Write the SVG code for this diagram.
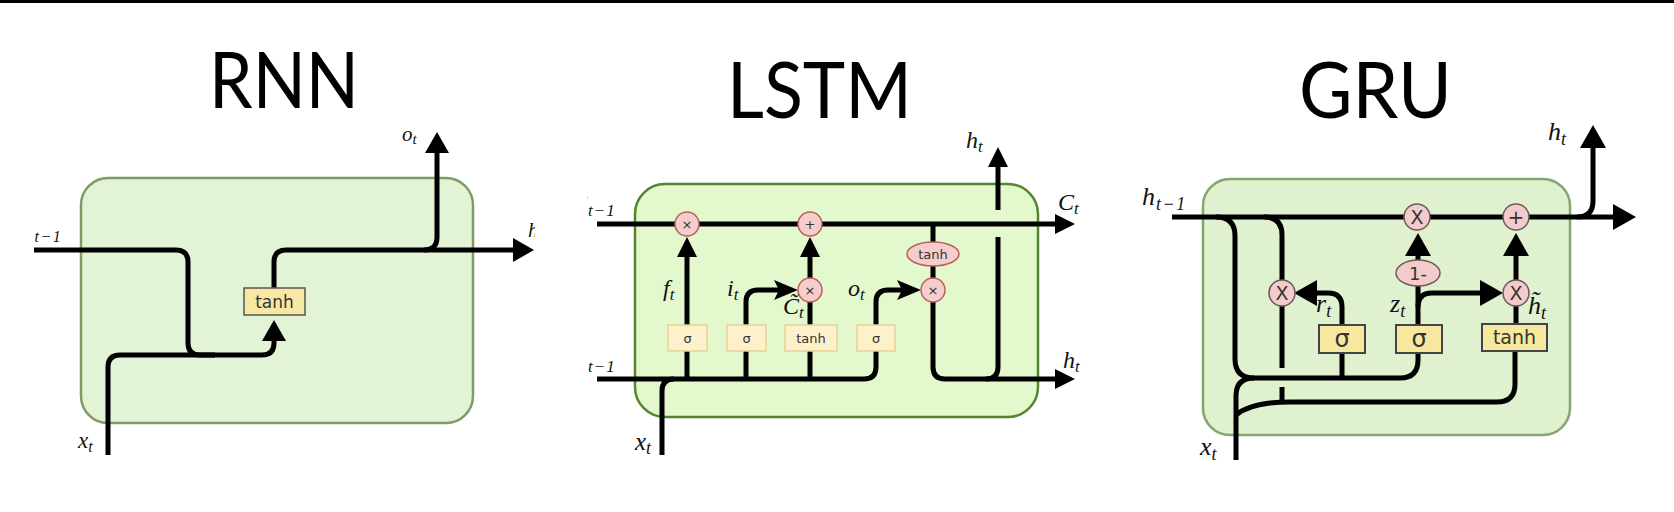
<svg xmlns="http://www.w3.org/2000/svg" width="1674" height="512" viewBox="0 0 1674 512">
<style>
.title{font-family:Lato,"Liberation Sans",sans-serif;font-size:77px;fill:#000}
.w{fill:none;stroke:#000;stroke-width:5}
.m{font-family:"Liberation Serif",serif;font-style:italic;fill:#111}
.sf{font-family:"DejaVu Sans","Liberation Sans",sans-serif;fill:#333;text-anchor:middle}
.cellR{fill:#e2f4d5;stroke:#7f9c68;stroke-width:2.5}
.cellL{fill:#e3f8cd;stroke:#55862f;stroke-width:2.5}
.cellG{fill:#dff1cf;stroke:#86a56f;stroke-width:2.5}
.ybR{fill:#f6e8a2;stroke:#555;stroke-width:1.5}
.ybL{fill:#fdf1cb;stroke:#ead196;stroke-width:1.5}
.ybG{fill:#f6e89e;stroke:#444;stroke-width:2}
.pkL{fill:#f6cccc;stroke:#b8605c;stroke-width:1.5}
.pkG{fill:#f4cbcd;stroke:#6d5a5a;stroke-width:1.5}
</style>
<defs>
<marker id="aR" markerUnits="userSpaceOnUse" orient="auto" refX="0" refY="0" style="overflow:visible"><path d="M0,-12 L21,0 L0,12 z" fill="#000"/></marker>
<marker id="aL" markerUnits="userSpaceOnUse" orient="auto" refX="0" refY="0" style="overflow:visible"><path d="M0,-10 L20,0 L0,10 z" fill="#000"/></marker>
<marker id="aN" markerUnits="userSpaceOnUse" orient="auto" refX="0" refY="0" style="overflow:visible"><path d="M-5,-10 L19,0 L-5,10 L0,0 z" fill="#000"/></marker>
<marker id="aG" markerUnits="userSpaceOnUse" orient="auto" refX="0" refY="0" style="overflow:visible"><path d="M0,-13 L23,0 L0,13 z" fill="#000"/></marker>
<clipPath id="cRL"><rect x="33" y="0" width="500" height="512"/></clipPath>
<clipPath id="cRR"><rect x="0" y="0" width="535" height="512"/></clipPath>
<clipPath id="cLL"><rect x="587" y="0" width="600" height="512"/></clipPath>
</defs>
<rect width="1674" height="512" fill="#fff"/>
<rect x="0" y="0" width="1674" height="3" fill="#000"/>

<!-- ============ RNN ============ -->
<g id="rnn">
<text class="title" x="209" y="108" textLength="150" lengthAdjust="spacingAndGlyphs">RNN</text>
<g id="rnn-cell"><rect class="cellR" x="81" y="178" width="392" height="245" rx="27"/></g>
<g id="rnn-connectors">
<path class="w" d="M34,250 H176 Q188,250 188,262 V343 Q188,355 200,355 H215"/>
<path class="w" d="M108,455 V367 Q108,355 120,355 H262 Q274,355 274,343 V341" marker-end="url(#aR)"/>
<path class="w" d="M274,290 V262 Q274,250 286,250 H513" marker-end="url(#aR)"/>
<path class="w" d="M424,250 Q437,250 437,237 V153" marker-end="url(#aR)"/>
</g>
<g id="rnn-tanh"><rect class="ybR" x="244" y="288" width="61" height="27"/><text class="sf" x="274.5" y="308" font-size="17">tanh</text></g>
<g id="rnn-labels">
<text class="m" x="402" y="141" font-size="21">o<tspan font-size="15" dy="3">t</tspan></text>
<text class="m" x="528" y="237" font-size="21" clip-path="url(#cRR)">h</text>
<g clip-path="url(#cRL)"><text class="m" x="23" y="238" font-size="21">h<tspan font-size="16" dy="4" dx="1" letter-spacing="1.5">t−1</tspan></text></g>
<text class="m" x="78" y="448" font-size="23">x<tspan font-size="16" dy="4">t</tspan></text>
</g>
</g>

<!-- ============ LSTM ============ -->
<g id="lstm">
<text class="title" x="727" y="118" font-size="78" textLength="185" lengthAdjust="spacingAndGlyphs">LSTM</text>
<g id="lstm-cell"><rect class="cellL" x="635" y="184" width="403" height="233" rx="30"/></g>
<g id="lstm-connectors">
<path class="w" d="M597,224 H1055" marker-end="url(#aL)"/>
<path class="w" d="M597,379 H864 Q876,379 876,367 V302 Q876,290 888,290 H902" marker-end="url(#aN)"/>
<path class="w" d="M662,455 V391 Q662,379 674,379"/>
<path class="w" d="M687,379 V257" marker-end="url(#aL)"/>
<path class="w" d="M746,379 V302 Q746,290 758,290 H779" marker-end="url(#aN)"/>
<path class="w" d="M810,379 V290"/>
<path class="w" d="M810,290 V257" marker-end="url(#aL)"/>
<path class="w" d="M933,224 V367 Q933,379 945,379 H1055" marker-end="url(#aL)"/>
<path class="w" d="M986,379 Q998,379 998,367 V237"/>
<path class="w" d="M998,210 V167" marker-end="url(#aL)"/>
</g>
<g id="lstm-mul-f"><circle class="pkL" cx="687" cy="224" r="12"/><text class="sf" x="687" y="229" font-size="13">×</text></g>
<g id="lstm-add"><circle class="pkL" cx="810" cy="224" r="12"/><text class="sf" x="810" y="229" font-size="13">+</text></g>
<g id="lstm-mul-i"><circle class="pkL" cx="810" cy="290" r="12"/><text class="sf" x="810" y="295" font-size="13">×</text></g>
<g id="lstm-mul-o"><circle class="pkL" cx="933" cy="290" r="12"/><text class="sf" x="933" y="295" font-size="13">×</text></g>
<g id="lstm-tanh-c"><ellipse class="pkL" cx="933" cy="254" rx="26" ry="12"/><text class="sf" x="933" y="259" font-size="13">tanh</text></g>
<g id="lstm-sig-f"><rect class="ybL" x="668" y="325" width="39" height="26"/><text class="sf" x="687.5" y="343" font-size="13">σ</text></g>
<g id="lstm-sig-i"><rect class="ybL" x="727" y="325" width="39" height="26"/><text class="sf" x="746.5" y="343" font-size="13">σ</text></g>
<g id="lstm-tanh"><rect class="ybL" x="785" y="325" width="52" height="26"/><text class="sf" x="811" y="343" font-size="13">tanh</text></g>
<g id="lstm-sig-o"><rect class="ybL" x="857" y="325" width="38" height="26"/><text class="sf" x="876" y="343" font-size="13">σ</text></g>
<g id="lstm-labels">
<text class="m" x="663" y="296" font-size="24">f<tspan font-size="17" dy="4">t</tspan></text>
<text class="m" x="727" y="296" font-size="24">i<tspan font-size="17" dy="4">t</tspan></text>
<text class="m" x="848" y="296" font-size="24">o<tspan font-size="17" dy="4">t</tspan></text>
<text class="m" x="783" y="314" font-size="24">C̃<tspan font-size="17" dy="4">t</tspan></text>
<text class="m" x="966" y="148" font-size="24">h<tspan font-size="17" dy="4">t</tspan></text>
<text class="m" x="1058" y="210" font-size="24">C<tspan font-size="17" dy="4">t</tspan></text>
<text class="m" x="1063" y="368" font-size="24">h<tspan font-size="17" dy="4">t</tspan></text>
<g clip-path="url(#cLL)">
<text class="m" x="571" y="211" font-size="24">C<tspan font-size="17" dy="5" dx="1" letter-spacing="1">t−1</tspan></text>
<text class="m" x="574" y="367" font-size="24">h<tspan font-size="17" dy="5" dx="2" letter-spacing="1">t−1</tspan></text>
</g>
<text class="m" x="635" y="450" font-size="25">x<tspan font-size="18" dy="4">t</tspan></text>
</g>
</g>

<!-- ============ GRU ============ -->
<g id="gru">
<text class="title" x="1299" y="118" font-size="78" textLength="153" lengthAdjust="spacingAndGlyphs">GRU</text>
<g id="gru-cell"><rect class="cellG" x="1203" y="179" width="367" height="256" rx="27"/></g>
<g id="gru-connectors">
<path class="w" d="M1172,217 H1613" marker-end="url(#aG)"/>
<path class="w" d="M1577,217 Q1593,217 1593,201 V148" marker-end="url(#aG)"/>
<path class="w" d="M1216,217 Q1235,217 1235,236 V359 Q1235,378 1254,378 H1400 Q1418,378 1418,360 V345"/>
<path class="w" d="M1236,460 V396 Q1236,378 1254,378"/>
<path class="w" d="M1264,217 Q1282,217 1282,235 V368"/>
<path class="w" d="M1282,387 V402"/>
<path class="w" d="M1342,378 V307 Q1342,293 1328,293 H1317" marker-end="url(#aG)"/>
<path class="w" d="M1418,330 V256" marker-end="url(#aG)"/>
<path class="w" d="M1418,307 Q1418,293 1432,293 H1480" marker-end="url(#aG)"/>
<path class="w" d="M1516,330 V256" marker-end="url(#aG)"/>
<path class="w" d="M1515,345 V384 Q1515,402 1497,402 H1290 C1265,402 1247,406 1236,415"/>
</g>
<g id="gru-mul-z"><circle class="pkG" cx="1417" cy="217" r="13"/><text class="sf" x="1417" y="224" font-size="19">X</text></g>
<g id="gru-add"><circle class="pkG" cx="1516" cy="217" r="13"/><text class="sf" x="1516" y="224" font-size="20">+</text></g>
<g id="gru-mul-r"><circle class="pkG" cx="1282" cy="293" r="13"/><text class="sf" x="1282" y="300" font-size="19">X</text></g>
<g id="gru-mul-h"><circle class="pkG" cx="1516" cy="293" r="13"/><text class="sf" x="1516" y="300" font-size="19">X</text></g>
<g id="gru-one-minus"><ellipse class="pkG" cx="1418" cy="273" rx="22" ry="13"/><text class="sf" x="1418" y="280" font-size="18">1-</text></g>
<g id="gru-sig-r"><rect class="ybG" x="1319" y="325" width="46" height="28"/><text class="sf" x="1342" y="347" font-size="24">σ</text></g>
<g id="gru-sig-z"><rect class="ybG" x="1396" y="325" width="46" height="28"/><text class="sf" x="1419" y="347" font-size="24">σ</text></g>
<g id="gru-tanh"><rect class="ybG" x="1482" y="324" width="65" height="27"/><text class="sf" x="1514.5" y="344" font-size="19">tanh</text></g>
<g id="gru-labels">
<text class="m" x="1142" y="205" font-size="26">h<tspan font-size="18" dy="5" dx="1" letter-spacing="1.5">t−1</tspan></text>
<text class="m" x="1548" y="140" font-size="26">h<tspan font-size="18" dy="5">t</tspan></text>
<text class="m" x="1316" y="312" font-size="26">r<tspan font-size="18" dy="5">t</tspan></text>
<text class="m" x="1390" y="312" font-size="26">z<tspan font-size="18" dy="5">t</tspan></text>
<text class="m" x="1528" y="314" font-size="26">h̃<tspan font-size="18" dy="5">t</tspan></text>
<text class="m" x="1200" y="455" font-size="26">x<tspan font-size="18" dy="5">t</tspan></text>
</g>
</g>
</svg>
